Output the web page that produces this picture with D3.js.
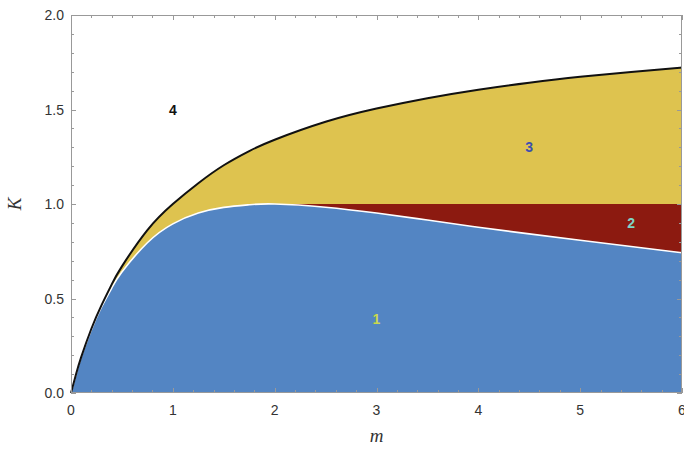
<!DOCTYPE html>
<html>
<head>
<meta charset="utf-8">
<script src="https://cdn.jsdelivr.net/npm/d3@7"></script>
<style>
  body { margin: 0; background: #fff; }
  svg { display: block; }
</style>
</head>
<body>
<svg id="chart"></svg>
<script>
// values
var mValues = [0, 0.05, 0.1, 0.2, 0.3, 0.4, 0.5, 0.75, 1.0, 1.25, 1.5, 1.75, 2.0, 2.5, 3.0, 3.5, 4.0, 4.5, 5.0, 5.5, 6.0];
// upper (black) boundary
var kUpper = [0, 0.10, 0.19, 0.34, 0.465, 0.575, 0.67, 0.862, 1.0, 1.11, 1.205, 1.28, 1.34, 1.435, 1.505, 1.56, 1.605, 1.642, 1.673, 1.698, 1.722];
// lower (white) boundary
var kLower = [0, 0.10, 0.19, 0.335, 0.455, 0.555, 0.64, 0.795, 0.895, 0.952, 0.982, 0.996, 1.0, 0.983, 0.952, 0.915, 0.877, 0.842, 0.808, 0.775, 0.742];
var kSplit = 1.0;  // top of region 2
var mSplit = 2.0;  // left end of region 2

var xTicks = [0, 1, 2, 3, 4, 5, 6];
var yTicks = [0, 0.5, 1.0, 1.5, 2.0];

var regionLabels = ["1", "2", "3", "4"];
var regionM = [3, 5.5, 4.5, 1];
var regionK = [0.39, 0.9, 1.3, 1.5];
var regionColors = ["#c9d84c", "#7fd6c6", "#3b4fb0", "#111"];

var width = 684, height = 457;
var margin = {top: 15, right: 2, bottom: 64, left: 71};

var svg = d3.select("#chart")
    .attr("width", width)
    .attr("height", height);

var x = d3.scaleLinear()
    .domain([0, 6])
    .range([margin.left, width - margin.right]);

var y = d3.scaleLinear()
    .domain([0, 2])
    .range([height - margin.bottom, margin.top]);

var pts = mValues.map((m, i) => ({m: m, up: kUpper[i], lo: kLower[i]}));
var smooth = d3.curveNatural;

// region 3 (yellow): everything under the black curve
svg.append("path")
    .datum(pts)
    .attr("fill", "#dec34f")
    .attr("d", d3.area()
      .curve(smooth)
      .x(d => x(d.m))
      .y0(y(0))
      .y1(d => y(d.up)));

// region 2 (dark red): below K = 1 for m >= 2, blue is painted over it
svg.append("path")
    .datum(pts.filter(d => d.m >= mSplit))
    .attr("fill", "#8c1a10")
    .attr("d", d3.area()
      .x(d => x(d.m))
      .y0(y(0))
      .y1(y(kSplit)));

// region 1 (blue)
svg.append("path")
    .datum(pts)
    .attr("fill", "#5385c3")
    .attr("d", d3.area()
      .curve(smooth)
      .x(d => x(d.m))
      .y0(y(0))
      .y1(d => y(d.lo)));

svg.append("path")
    .datum(pts)
    .attr("fill", "none")
    .attr("stroke", "#fff")
    .attr("stroke-width", 1.6)
    .attr("d", d3.line()
      .curve(smooth)
      .x(d => x(d.m))
      .y(d => y(d.lo)));

svg.append("path")
    .datum(pts)
    .attr("fill", "none")
    .attr("stroke", "#111")
    .attr("stroke-width", 2)
    .attr("d", d3.line()
      .curve(smooth)
      .x(d => x(d.m))
      .y(d => y(d.up)));

// frame with inward ticks on all four sides
var frame = svg.append("g").attr("stroke", "#999").attr("fill", "none");
frame.append("rect")
    .attr("x", x(0) + 0.5)
    .attr("y", y(2) + 0.5)
    .attr("width", x(6) - x(0) - 1)
    .attr("height", y(0) - y(2) - 1);

var xMinor = d3.range(0, 6.001, 0.2);
var yMinor = d3.range(0, 2.001, 0.1);

function tickLen(v, step) {
  return Math.abs(v / step - Math.round(v / step)) < 1e-6 ? 5 : 3;
}

xMinor.forEach(v => {
  var len = tickLen(v, 1);
  var px = Math.round(x(v)) + 0.5;
  frame.append("line").attr("x1", px).attr("x2", px).attr("y1", y(0)).attr("y2", y(0) - len);
  frame.append("line").attr("x1", px).attr("x2", px).attr("y1", y(2)).attr("y2", y(2) + len);
});
yMinor.forEach(v => {
  var len = tickLen(v, 0.5);
  var py = Math.round(y(v)) + 0.5;
  frame.append("line").attr("y1", py).attr("y2", py).attr("x1", x(0)).attr("x2", x(0) + len);
  frame.append("line").attr("y1", py).attr("y2", py).attr("x1", x(6)).attr("x2", x(6) - len);
});

// tick labels
svg.append("g")
    .attr("font-family", "Liberation Sans, Arial, sans-serif")
    .attr("font-size", 14)
    .attr("fill", "#333")
    .attr("text-anchor", "middle")
  .selectAll("text")
  .data(xTicks)
  .join("text")
    .attr("x", d => x(d))
    .attr("y", y(0) + 22)
    .text(d => d);

svg.append("g")
    .attr("font-family", "Liberation Sans, Arial, sans-serif")
    .attr("font-size", 14)
    .attr("fill", "#333")
    .attr("text-anchor", "end")
  .selectAll("text")
  .data(yTicks)
  .join("text")
    .attr("x", x(0) - 7)
    .attr("y", d => y(d) + 5)
    .text(d3.format(".1f"));

// axis titles
svg.append("text")
    .attr("font-family", "Liberation Serif, Times New Roman, serif")
    .attr("font-style", "italic")
    .attr("font-size", 19)
    .attr("fill", "#333")
    .attr("text-anchor", "middle")
    .attr("x", (x(0) + x(6)) / 2)
    .attr("y", 442)
    .text("m");

svg.append("text")
    .attr("font-family", "Liberation Serif, Times New Roman, serif")
    .attr("font-style", "italic")
    .attr("font-size", 19)
    .attr("fill", "#333")
    .attr("text-anchor", "middle")
    .attr("transform", "translate(21," + y(1) + ") rotate(-90)")
    .text("K");

// region numbers
svg.append("g")
    .attr("font-family", "Liberation Sans, Arial, sans-serif")
    .attr("font-weight", "bold")
    .attr("font-size", 14)
    .attr("text-anchor", "middle")
  .selectAll("text")
  .data(regionLabels)
  .join("text")
    .attr("x", (d, i) => x(regionM[i]))
    .attr("y", (d, i) => y(regionK[i]) + 5)
    .attr("fill", (d, i) => regionColors[i])
    .text(d => d);
</script>
</body>
</html>
